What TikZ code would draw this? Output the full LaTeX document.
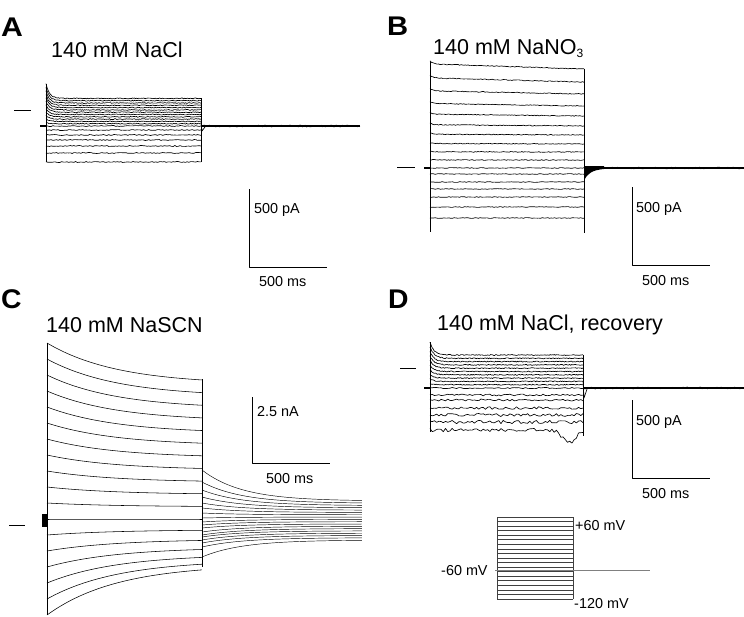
\documentclass[tikz,border=0pt]{standalone}
\usepackage{fontspec}
\setmainfont{Liberation Sans}
\usepackage{graphicx}
\usepackage{tikz}

\begin{document}
\begin{tikzpicture}[x = 1pt, y = -1pt, line join = round,
  trace/.style = {line width = 0.65pt},
  thicktail/.style = {line width = 2.6pt},
  bar/.style = {line width = 0.75pt},
  proto/.style = {line width = 0.6pt, black!75},
  hold/.style = {line width = 0.9pt, black!50},
  panel/.style = {anchor = base west, inner sep = 0, font = \fontsize{27}{28}\selectfont\bfseries},
  title/.style = {anchor = base west, inner sep = 0, font = \fontsize{21.5}{22}\selectfont},
  lbl/.style = {anchor = base west, inner sep = 0, font = \fontsize{14.4}{15}\selectfont}]
 \useasboundingbox (0, 0) rectangle (744, 616);
 \pgfmathsetseed{7}
  \node[panel] (letA) at (1, 36) {\scalebox{1.12}[1]{A}};
  \node[panel] (letB) at (387, 35) {\scalebox{1.08}[1]{B}};
  \node[panel] (letC) at (1, 308) {\scalebox{1.05}[1]{C}};
  \node[panel] (letD) at (388, 308) {\scalebox{1.05}[1]{D}};
  \node[title] (titleA) at (51, 57) {140 mM NaCl};
  \node[title] (titleB) at (433, 54) {140 mM NaNO\raisebox{-0.35ex}{\fontsize{12}{12}\selectfont 3}};
  \node[title] (titleC) at (46, 332) {140 mM NaSCN};
  \node[title] (titleD) at (437, 330) {140 mM NaCl, recovery};
  \draw[bar] (249, 189) -- (249, 267) -- (327, 267);
  \node[lbl] (pA_A) at (254, 213) {500 pA};
  \node[lbl] (msA) at (259, 286) {500 ms};
  \draw[bar] (632, 187) -- (632, 265) -- (710, 265);
  \node[lbl] (pA_B) at (636, 212) {500 pA};
  \node[lbl] (msB) at (642, 285) {500 ms};
  \draw[bar] (252, 397) -- (252, 463) -- (330, 463);
  \node[lbl] (nA_C) at (257, 416) {2.5 nA};
  \node[lbl] (msC) at (266, 483) {500 ms};
  \draw[bar] (632, 400) -- (632, 478) -- (710, 478);
  \node[lbl] (pA_D) at (636, 425) {500 pA};
  \node[lbl] (msD) at (642, 498) {500 ms};
  \draw[bar] (14, 110) -- (31, 110);
  \draw[thicktail] (40, 126) -- (46, 126);
  \foreach \k in {1,...,12}
   \draw[trace] plot[domain = 46:201, samples = 150] (\x, {126 - 2.3*\k - 1.2*\k*exp(-(\x - 46)/3.5) + 0.45*rand});
  \foreach \v in {126, 130, 135, 140, 146, 153, 162}
   \draw[trace] plot[domain = 46:201, samples = 90] (\x, {\v + 0.5*rand});
  \draw[trace] (46, 84) -- (46, 162);
  \draw[trace] (201, 98) -- (201, 162);
  \draw[thicktail] (201, 126) -- (360, 126);
  \draw[trace] plot[domain = 201:360, samples = 120] (\x, {126 + 1.0*rand});
  \draw[trace] (201, 122) -- (202, 131) -- (205, 127);
  \draw[bar] (397, 167) -- (415, 167);
  \draw[thicktail] (424, 168) -- (430, 168);
  \foreach \L [count = \i] in {69, 82, 94, 106, 116, 126, 135, 144, 152, 160} {
   \pgfmathsetmacro\d{(11 - \i)/10}
   \draw[trace] plot[domain = 430:584, samples = 110] (\x, {\L - 5*\d*\d*(1 - (\x - 430)/154) - 3*\d*exp(-(\x - 430)/3) + 0.4*rand});
  }
  \foreach \v in {168, 174, 182, 189, 197, 207, 218}
   \draw[trace] plot[domain = 430:584, samples = 90] (\x, {\v + 0.4*rand});
  \draw[trace] (430, 62) -- (430, 232);
  \draw[trace] (584, 69) -- (584, 233);
  \draw[thicktail] (584, 168) -- (744, 168);
  \draw[trace] plot[domain = 584:744, samples = 120] (\x, {168 + 0.9*rand});
  \fill (584, 166) -- (584, 181) .. controls (587, 173) and (593, 170) .. (604, 169) -- (604, 166) -- cycle;
  \draw[bar] (9, 525) -- (25, 525);
  \fill (42, 514) rectangle (47, 527);
  \foreach \k in {-6,...,11} {
   \pgfmathsetmacro\r{\k >= 0 ? 0.79 : 0.74 - 0.035*abs(\k)}
   \draw[trace, line width = 0.55pt] plot[domain = 0:1, samples = 40] ({47 + 155*\x}, {519 - 16*\k*(\r + (1 - \r)*(exp(-\x/0.45) - 0.1084)/0.8916)});
  }
  \draw[trace] (47, 343) -- (47, 615);
  \draw[trace] (202, 379) -- (202, 567);
  \foreach \s [count = \i] in {470, 482, 490, 497, 503, 508, 513, 518, 522, 525, 528, 532, 535, 537, 540, 543, 547, 557} {
   \pgfmathsetmacro\e{501 + (\i - 1)*39/17}
   \draw[trace, line width = 0.45pt] plot[domain = 0:1, samples = 40] ({202 + 160*\x}, {\e + (\s - \e)*exp(-\x/0.25)});
  }
  \draw[bar] (400, 368) -- (416, 368);
  \draw[thicktail] (424, 388) -- (430, 388);
  \foreach \k in {1,...,10}
   \draw[trace] plot[domain = 430:583, samples = 150] (\x, {388 - 3.3*\k - 1.3*\k*exp(-(\x - 430)/4) + 0.5*rand});
  \foreach \v/\a in {388/0.6, 395/0.9, 400/1.0, 408/1.3, 415/1.5, 422/1.7}
   \draw[trace] plot[domain = 430:583, samples = 70] (\x, {\v + \a*rand});
  \draw[trace] plot[domain = 430:583, samples = 70] (\x, {430 + 1.8*rand + 13*exp(-((\x - 569)/9)^2)});
  \draw[trace] (430, 342) -- (430, 432);
  \draw[trace] (583, 355) -- (583, 436);
  \draw[thicktail] (583, 388) -- (744, 388);
  \draw[trace] plot[domain = 583:744, samples = 120] (\x, {388 + 1.0*rand});
  \draw[trace] (583, 381) -- (584, 398) -- (587, 389);
  \foreach \i in {0,...,18}
   \draw[proto] (497, {517 + \i*82/18}) -- (573, {517 + \i*82/18});
  \draw[proto] (497, 517) -- (497, 599);
  \draw[proto] (573, 517) -- (573, 599);
  \draw[hold] (495, 570) -- (650, 570);
  \node[lbl] (vTop) at (575, 530) {+60 mV};
  \node[lbl] (vHold) at (441, 575) {-60 mV};
  \node[lbl] (vBot) at (574, 608) {-120 mV};
 \end{tikzpicture}
\end{document}
